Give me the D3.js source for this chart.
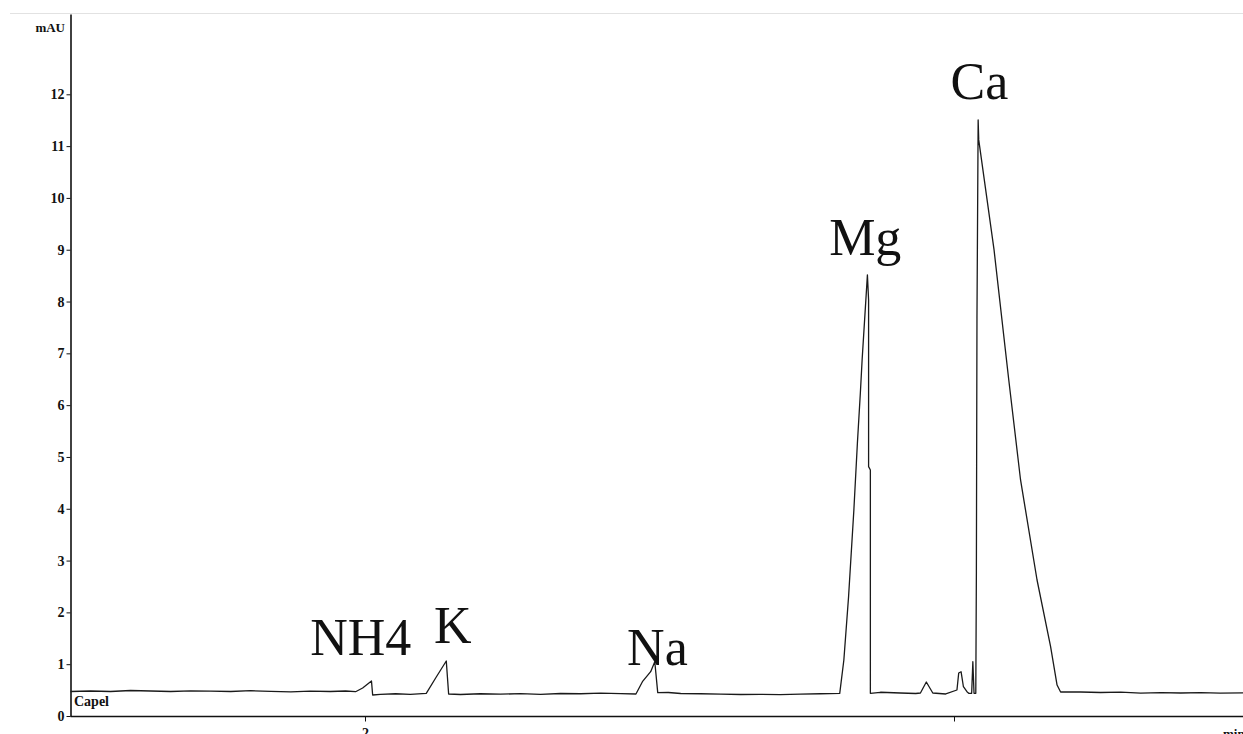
<!DOCTYPE html>
<html>
<head>
<meta charset="utf-8">
<script src="https://cdn.jsdelivr.net/npm/d3@7"></script>
<style>
  html, body { margin: 0; padding: 0; background: #ffffff; }
  svg { display: block; }
</style>
</head>
<body>
<svg id="chart" width="1243" height="734"></svg>
<script>
// ---- data (time in min, signal in mAU) ----
const times = [
  1.500, 1.534, 1.568, 1.602, 1.636, 1.670, 1.704, 1.738, 1.772, 1.806,
  1.840, 1.874, 1.907, 1.941, 1.967, 1.984, 1.996, 2.011, 2.013, 2.026,
  2.052, 2.077, 2.104, 2.121, 2.138, 2.142, 2.162, 2.196, 2.230, 2.264,
  2.298, 2.332, 2.366, 2.400, 2.434, 2.460, 2.471, 2.485, 2.492, 2.497,
  2.515, 2.536, 2.570, 2.604, 2.638, 2.671, 2.705, 2.739, 2.773, 2.806,
  2.813, 2.821, 2.830, 2.836, 2.841, 2.844, 2.853, 2.855, 2.855, 2.858,
  2.858, 2.875, 2.909, 2.935, 2.943, 2.953, 2.964, 2.986, 3.005, 3.008,
  3.012, 3.016, 3.022, 3.025, 3.030, 3.032, 3.034, 3.037, 3.038, 3.039,
  3.041, 3.042, 3.068, 3.093, 3.113, 3.141, 3.164, 3.175, 3.181, 3.215,
  3.249, 3.283, 3.317, 3.351, 3.385, 3.419, 3.452, 3.492
];
const mAU = [
  0.473, 0.483, 0.473, 0.492, 0.483, 0.473, 0.486, 0.479, 0.473, 0.488,
  0.477, 0.467, 0.479, 0.473, 0.483, 0.469, 0.541, 0.676, 0.405, 0.419,
  0.429, 0.419, 0.438, 0.753, 1.062, 0.425, 0.415, 0.429, 0.421, 0.431,
  0.419, 0.434, 0.429, 0.440, 0.432, 0.425, 0.662, 0.855, 1.048, 0.450,
  0.454, 0.434, 0.429, 0.421, 0.415, 0.419, 0.413, 0.421, 0.429, 0.438,
  1.081, 2.303, 3.977, 5.270, 6.236, 6.873, 8.514, 8.031, 4.813, 4.749,
  0.438, 0.458, 0.444, 0.434, 0.444, 0.656, 0.444, 0.425, 0.502, 0.830,
  0.855, 0.565, 0.469, 0.438, 0.438, 1.048, 0.438, 0.438, 2.780, 7.683,
  11.506, 11.120, 8.996, 6.486, 4.556, 2.625, 1.338, 0.598, 0.463, 0.463,
  0.454, 0.459, 0.440, 0.452, 0.444, 0.452, 0.440, 0.448
];

const yTickValues = [0, 1, 2, 3, 4, 5, 6, 7, 8, 9, 10, 11, 12];
const xTickValues = [2, 3];
const xTickLabels = ["2", ""];

const peakNames = ["NH4", "K", "Na", "Mg", "Ca"];
const peakLabelTimes = [1.907, 2.117, 2.445, 2.788, 2.994];
const peakLabelLevels = [1.18, 1.41, 0.99, 8.90, 11.90];

const yAxisTitle = "mAU";
const xAxisTitle = "min";
const traceName = "Capel";

// ---- drawing ----
const svg = d3.select("#chart");
const W = 1243, H = 734;

const x = d3.scaleLinear().domain([1.5, 3.5]).range([70.5, 1248.5]);
const y = d3.scaleLinear().domain([0, 13.55]).range([716, 14]);

const serif = "'Liberation Serif', 'Times New Roman', serif";

// top faint border
svg.append("line")
  .attr("x1", 10).attr("x2", W).attr("y1", 13.5).attr("y2", 13.5)
  .attr("stroke", "#e2e2e2").attr("stroke-width", 1);

// y axis
const yAxis = d3.axisLeft(y).tickValues(yTickValues).tickSize(4).tickSizeOuter(0).tickPadding(2)
  .tickFormat(d3.format("d"));
const gy = svg.append("g").attr("transform", "translate(70.5,0)").call(yAxis);
gy.select(".domain").attr("stroke", "#111").attr("stroke-width", 1.6);
gy.selectAll(".tick line").attr("stroke", "#111").attr("stroke-width", 1);
gy.selectAll(".tick text")
  .attr("font-family", serif).attr("font-weight", "bold").attr("font-size", 14)
  .attr("fill", "#111");

// x axis
const xAxis = d3.axisBottom(x).tickValues(xTickValues).tickSize(5).tickSizeOuter(0).tickPadding(7)
  .tickFormat((d, i) => xTickLabels[i]);
const gx = svg.append("g").attr("transform", "translate(0,716.5)").call(xAxis);
gx.select(".domain").attr("d", "M70.5,0H" + W).attr("stroke", "#111").attr("stroke-width", 1.6);
gx.selectAll(".tick line").attr("stroke", "#111").attr("stroke-width", 1);
gx.selectAll(".tick text")
  .attr("font-family", serif).attr("font-weight", "bold").attr("font-size", 14)
  .attr("fill", "#111");

// axis titles
svg.append("text").attr("x", 65).attr("y", 32).attr("text-anchor", "end")
  .attr("font-family", serif).attr("font-weight", "bold").attr("font-size", 13)
  .attr("fill", "#111").text(yAxisTitle);
svg.append("text").attr("x", 1223).attr("y", 738)
  .attr("font-family", serif).attr("font-weight", "bold").attr("font-size", 13)
  .attr("fill", "#111").text(xAxisTitle);

// trace name
svg.append("text").attr("x", 74).attr("y", 706)
  .attr("font-family", serif).attr("font-weight", "bold").attr("font-size", 14)
  .attr("fill", "#111").text(traceName);

// chromatogram trace
const pts = times.map((t, i) => [t, mAU[i]]);
const line = d3.line().x(d => x(d[0])).y(d => y(d[1]));
svg.append("path").datum(pts)
  .attr("d", line)
  .attr("fill", "none")
  .attr("stroke", "#1a1a1a")
  .attr("stroke-width", 1.3)
  .attr("stroke-linejoin", "round");

// peak labels
svg.append("g").selectAll("text").data(peakNames).join("text")
  .attr("x", (d, i) => x(peakLabelTimes[i]))
  .attr("y", (d, i) => y(peakLabelLevels[i]))
  .attr("font-family", serif)
  .attr("font-size", 52)
  .attr("fill", "#111")
  .text(d => d);
</script>
</body>
</html>
